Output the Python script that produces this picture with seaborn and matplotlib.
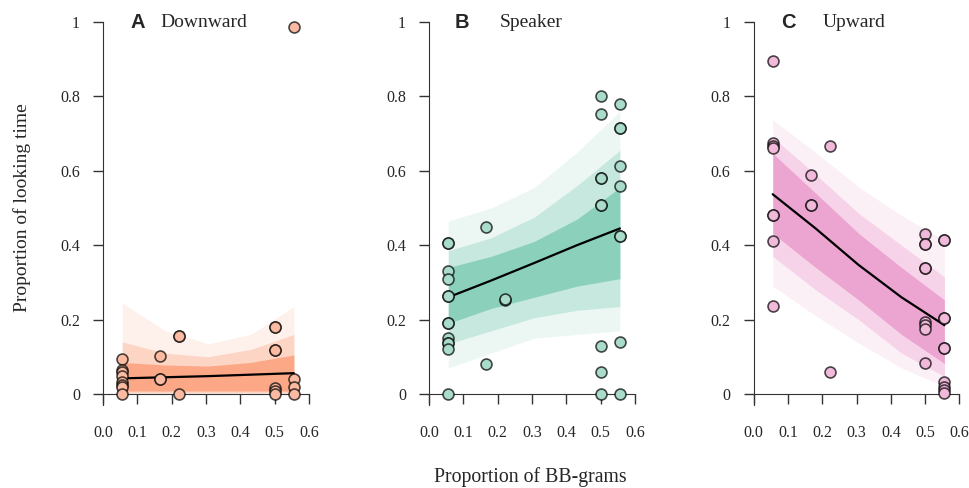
import numpy as np
import pandas as pd
import matplotlib
matplotlib.use("Agg")
import matplotlib.pyplot as plt
import seaborn as sns

sns.set_style("ticks")
plt.rcParams['font.family'] = ['Liberation Serif', 'DejaVu Serif']

# ---------------- data ----------------
titles = ["Downward", "Speaker", "Upward"]
letters = ["A", "B", "C"]
band_colors = ["#FC8D62", "#66C2A5", "#E78AC3"]
point_colors = ["#FBBBA2", "#A9DCCB", "#F1BADB"]

# observed points (x = proportion of BB-grams, y = proportion of looking time)
a_x = [0.056]*8 + [0.167]*3 + [0.222]*3 + [0.5]*7 + [0.556]*4
a_y = [0.093, 0.065, 0.058, 0.048, 0.031, 0.025, 0.020, 0.0,
       0.102, 0.040, 0.040,
       0.157, 0.157, 0.0,
       0.179, 0.179, 0.118, 0.118, 0.015, 0.008, 0.0,
       0.987, 0.040, 0.020, 0.0]

b_x = [0.056]*13 + [0.167]*2 + [0.222]*2 + [0.5]*9 + [0.556]*9
b_y = [0.406, 0.406, 0.331, 0.308, 0.264, 0.264, 0.191, 0.191, 0.150, 0.136, 0.136, 0.120, 0.0,
       0.450, 0.080,
       0.253, 0.256,
       0.800, 0.753, 0.581, 0.581, 0.507, 0.507, 0.129, 0.059, 0.0,
       0.780, 0.715, 0.715, 0.613, 0.559, 0.424, 0.424, 0.141, 0.0]

c_x = [0.056]*8 + [0.167]*3 + [0.222]*2 + [0.5]*9 + [0.556]*10
c_y = [0.895, 0.675, 0.668, 0.661, 0.481, 0.481, 0.410, 0.236,
       0.589, 0.509, 0.509,
       0.668, 0.059,
       0.431, 0.402, 0.402, 0.340, 0.340, 0.194, 0.185, 0.176, 0.082,
       0.413, 0.413, 0.205, 0.205, 0.124, 0.124, 0.032, 0.020, 0.010, 0.003]

# posterior mean curve and spread envelopes (outer, middle, inner) on grid_x
grid_x = [0.056, 0.181, 0.306, 0.431, 0.556]
a_mean = [0.042, 0.045, 0.048, 0.052, 0.056]
b_mean = [0.260, 0.305, 0.352, 0.400, 0.445]
c_mean = [0.537, 0.445, 0.347, 0.260, 0.185]

a_bands = [([0.000, 0.000, 0.000, 0.000, 0.000], [0.245, 0.170, 0.135, 0.160, 0.235]),
           ([0.003, 0.003, 0.003, 0.003, 0.003], [0.140, 0.110, 0.100, 0.120, 0.160]),
           ([0.008, 0.008, 0.008, 0.008, 0.008], [0.085, 0.078, 0.075, 0.085, 0.105])]
b_bands = [([0.070, 0.110, 0.150, 0.160, 0.170], [0.465, 0.500, 0.555, 0.650, 0.760]),
           ([0.135, 0.170, 0.205, 0.225, 0.235], [0.385, 0.420, 0.475, 0.560, 0.655]),
           ([0.190, 0.230, 0.260, 0.290, 0.310], [0.340, 0.370, 0.410, 0.470, 0.555])]
c_bands = [([0.290, 0.210, 0.137, 0.070, 0.020], [0.737, 0.650, 0.557, 0.480, 0.414]),
           ([0.370, 0.280, 0.200, 0.110, 0.047], [0.690, 0.590, 0.486, 0.400, 0.315]),
           ([0.432, 0.340, 0.253, 0.160, 0.082], [0.647, 0.540, 0.432, 0.340, 0.253])]

xticks = [0.0, 0.1, 0.2, 0.3, 0.4, 0.5, 0.6]
xtick_labels = ["0.0", "0.1", "0.2", "0.3", "0.4", "0.5", "0.6"]
yticks = [0, 0.2, 0.4, 0.6, 0.8, 1]
ytick_labels = ["0", "0.2", "0.4", "0.6", "0.8", "1"]

panels = [(a_x, a_y, a_mean, a_bands), (b_x, b_y, b_mean, b_bands), (c_x, c_y, c_mean, c_bands)]

# ---------------- figure ----------------
fig = plt.figure(figsize=(9.69, 4.88), dpi=100)
lefts = [103/969, 429/969, 753.5/969]
title_pos = [(0.100, 0.166), (0.097, 0.207), (0.102, 0.200)]
band_alphas = [0.12, 0.28, 0.62]

for i, (px, py, pm, pb) in enumerate(panels):
    ax = fig.add_axes([lefts[i], 94/488, 206/969, 372/488])
    col = band_colors[i]
    for (lo, hi), al in zip(pb, band_alphas):
        ax.fill_between(grid_x, lo, hi, color=col, alpha=al, lw=0, zorder=1)
    sns.lineplot(x=grid_x, y=pm, color="black", lw=1.6, ax=ax, zorder=3)
    df = pd.DataFrame({"x": px, "y": py})
    sns.scatterplot(data=df, x="x", y="y", ax=ax, s=62,
                    color=point_colors[i],
                    edgecolor=(0, 0, 0, 0.7), linewidth=1.2,
                    clip_on=False, zorder=5, legend=False)
    ax.set_xlim(0, 0.6)
    ax.set_ylim(0, 1)
    ax.set_xticks(xticks)
    ax.set_xticklabels(xtick_labels)
    ax.set_yticks(yticks)
    ax.set_yticklabels(ytick_labels)
    ax.tick_params(axis='both', direction='out', length=7.5, width=1, labelsize=11.5, color='#333333')
    ax.tick_params(axis='x', pad=15)
    ax.tick_params(axis='y', pad=9)
    for s in ['top', 'right']:
        ax.spines[s].set_visible(False)
    ax.spines['left'].set_bounds(-0.03, 1)
    ax.spines['left'].set_color('#333333')
    ax.spines['bottom'].set_color('#333333')
    ax.set_xlabel("")
    ax.set_ylabel("")
    lx, tx = title_pos[i]
    ax.text(lx, 1.0, letters[i], fontsize=14.5, fontweight='bold',
            family=['Liberation Sans', 'DejaVu Sans'], ha='center', va='center')
    ax.text(tx, 1.0, titles[i], fontsize=14, ha='left', va='center')
    ax.patch.set_alpha(0)

fig.text(0.023, (488-208)/488, "Proportion of looking time", rotation=90,
         ha='center', va='center', fontsize=14)
fig.text(530/969, 11/488, "Proportion of BB-grams", ha='center', va='center', fontsize=14.2)

fig.savefig("out.png", dpi=100)
